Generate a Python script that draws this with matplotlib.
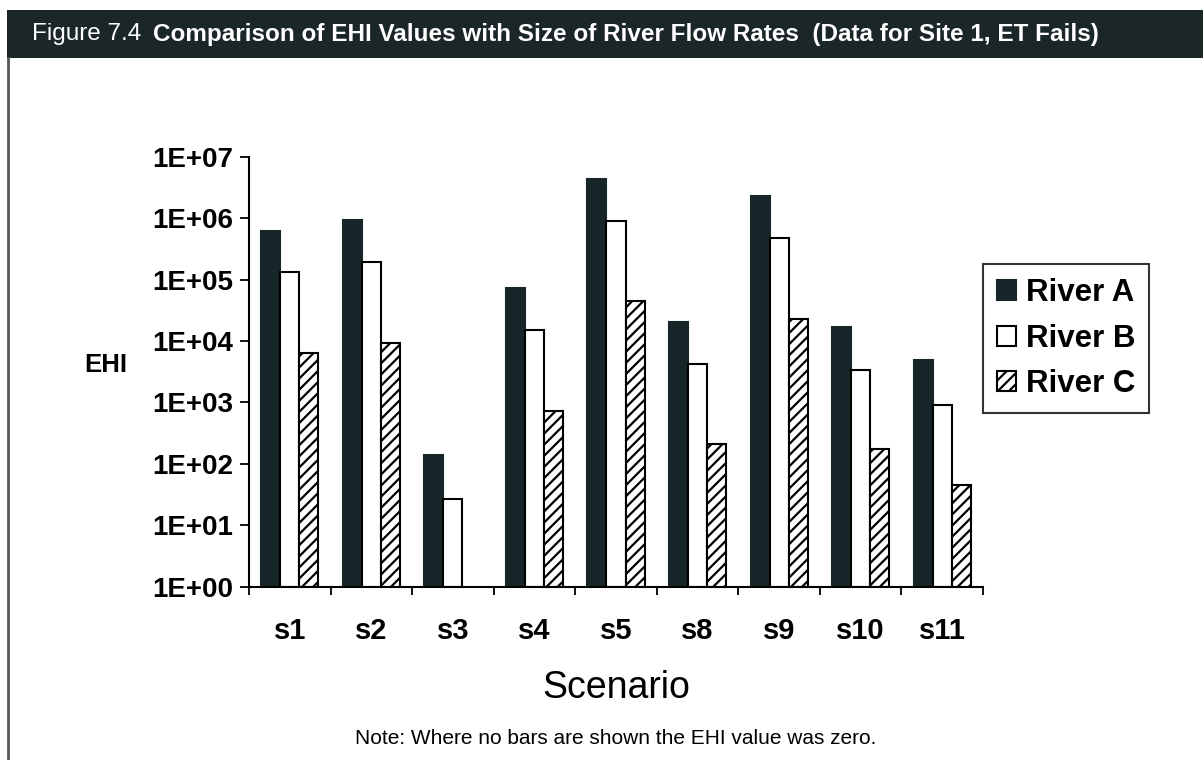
import numpy as np
import matplotlib
matplotlib.use("Agg")
import matplotlib.pyplot as plt
from matplotlib import font_manager
from matplotlib.ticker import FixedLocator, FuncFormatter, NullFormatter, NullLocator

# ---------------- data ----------------
scenarios = ["s1", "s2", "s3", "s4", "s5", "s8", "s9", "s10", "s11"]
river_a = [6.2e5, 9.3e5, 138, 7.2e4, 4.3e6, 2.06e4, 2.29e6, 1.71e4, 4.9e3]
river_b = [1.31e5, 1.93e5, 26, 1.49e4, 9.0e5, 4.27e3, 4.69e5, 3.37e3, 9.1e2]
river_c = [6.4e3, 9.4e3, 0, 7.2e2, 4.48e4, 2.08e2, 2.25e4, 1.72e2, 44]
series_names = ["River A", "River B", "River C"]
yticks = [1e0, 1e1, 1e2, 1e3, 1e4, 1e5, 1e6, 1e7]

title_prefix = "Figure 7.4"
title_main = "Comparison of EHI Values with Size of River Flow Rates  (Data for Site 1, ET Fails)"
note_text = "Note: Where no bars are shown the EHI value was zero."

# ---------------- style ----------------
names = {f.name for f in font_manager.fontManager.ttflist}
base_font = "Liberation Sans" if "Liberation Sans" in names else "DejaVu Sans"
plt.rcParams["font.family"] = [base_font, "DejaVu Sans"]
plt.rcParams["hatch.linewidth"] = 1.6

DARK = "#172628"
W, H = 1203, 760
fig = plt.figure(figsize=(W / 100, H / 100), dpi=100)
fig.patch.set_facecolor("white")

def fx(px):
    return px / W

def fy(py):
    return 1 - py / H

# title band
band = plt.Rectangle((fx(7), fy(58)), 1 - fx(7), (58 - 10) / H, transform=fig.transFigure,
                     facecolor="#1b2628", edgecolor="none", zorder=0)
fig.patches.append(band)
# left border line
fig.add_artist(plt.Line2D([fx(8), fx(8)], [fy(58), 0], transform=fig.transFigure,
                          color="#555555", lw=2))

t1 = fig.text(fx(32), fy(34), title_prefix, color="white", fontsize=17.5,
              ha="left", va="center")
fig.canvas.draw()
r = fig.canvas.get_renderer()
bb = t1.get_window_extent(renderer=r)
t2 = fig.text(bb.x1 / W + fx(12), fy(34), title_main, color="white", fontsize=17.5,
              fontweight="bold", ha="left", va="center")

# axes
ax = fig.add_axes([fx(249), fy(586.7), fx(983) - fx(249), (586.7 - 156.7) / H])
ax.set_yscale("log")
ax.set_ylim(1, 1e7)
ax.set_xlim(-0.5, len(scenarios) - 0.5)

x = np.arange(len(scenarios))
bw = 0.233
styles = [dict(color=DARK, edgecolor=DARK),
          dict(color="white", edgecolor="black"),
          dict(color="white", edgecolor="black", hatch="///")]
handles = []
for i, (vals, st) in enumerate(zip([river_a, river_b, river_c], styles)):
    vals = np.asarray(vals, dtype=float)
    mask = vals > 0
    h = ax.bar(x[mask] + (i - 1) * bw, vals[mask], width=bw, bottom=1, linewidth=1.5,
               label=series_names[i], zorder=2, **st)
    handles.append(h)

for s in ["top", "right"]:
    ax.spines[s].set_visible(False)
for s in ["left", "bottom"]:
    ax.spines[s].set_linewidth(1.5)
    ax.spines[s].set_zorder(3)

ax.yaxis.set_major_locator(FixedLocator(yticks))
ax.yaxis.set_minor_locator(NullLocator())
ax.yaxis.set_major_formatter(FuncFormatter(lambda v, p: f"1E+{int(round(np.log10(v))):02d}"))
ax.tick_params(axis="y", which="major", length=6.5, width=1.3, pad=5, labelsize=20)
for lab in ax.get_yticklabels():
    lab.set_fontweight("bold")

ax.xaxis.set_major_locator(FixedLocator(np.arange(len(scenarios) + 1) - 0.5))
ax.xaxis.set_major_formatter(NullFormatter())
ax.set_xticks(x, scenarios, minor=True)
ax.tick_params(axis="x", which="major", length=6, width=1.3, direction="out")
ax.tick_params(axis="x", which="minor", length=0, pad=22, labelsize=21)
for lab in ax.get_xticklabels(minor=True):
    lab.set_fontweight("bold")

fig.text(fx(616), fy(688), "Scenario", fontsize=27, ha="center", va="center")
fig.text(fx(106), fy(365), "EHI", fontsize=18.5, fontweight="bold", ha="center", va="center")
fig.text(fx(616), fy(738), note_text, fontsize=15, ha="center", va="center")

leg = ax.legend(handles=handles, loc="upper left", bbox_to_anchor=(fx(983), fy(264)),
                bbox_transform=fig.transFigure, borderaxespad=0, fancybox=False,
                frameon=True, edgecolor="black", handlelength=0.62, handleheight=0.62,
                handletextpad=0.3, labelspacing=0.5, borderpad=0.45,
                prop=dict(size=22.5, weight="bold"))
leg.get_frame().set_linewidth(1.5)

fig.savefig("out.png", dpi=100, facecolor="white")
